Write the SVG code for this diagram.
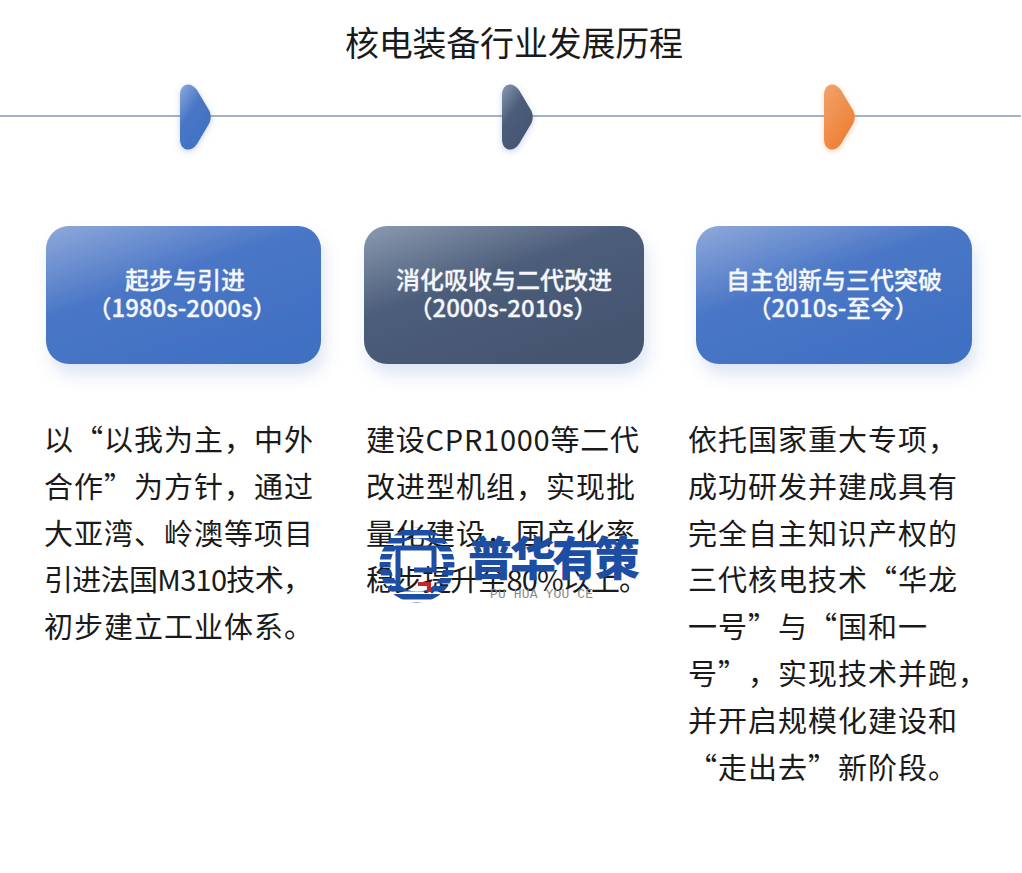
<svg xmlns="http://www.w3.org/2000/svg" width="1022" height="873" viewBox="0 0 1022 873">
<style>
text{font-family:"Noto Sans CJK SC","Noto Sans",sans-serif;text-spacing-trim:space-all;font-kerning:none}
.t{font-size:34px;fill:#1a1a1a}
.h{font-size:24px;font-weight:500;fill:#f4f7fc;text-anchor:middle;stroke:#f4f7fc;stroke-width:.3px}
.b{font-size:29px;fill:#1a1a1a;letter-spacing:1px}
.w{font-size:46px;font-weight:900;fill:#1d4ea3}
.ws{font-size:13px;font-family:"Liberation Mono",monospace;fill:#8a8a8a}
</style>
<defs>
<linearGradient id="gb" x1="0" y1="0" x2="0.7" y2="1"><stop offset="0" stop-color="#8fa9da"/><stop offset=".45" stop-color="#4a76c6"/><stop offset="1" stop-color="#4070c2"/></linearGradient>
<linearGradient id="gd" x1="0" y1="0" x2="0.7" y2="1"><stop offset="0" stop-color="#8a9ab0"/><stop offset=".45" stop-color="#4c5d7a"/><stop offset="1" stop-color="#44546f"/></linearGradient>
<linearGradient id="go" x1="0" y1="0" x2="0.7" y2="1"><stop offset="0" stop-color="#f2a36c"/><stop offset="1" stop-color="#ed7d31"/></linearGradient>
<pattern id="st" width="8" height="8" patternUnits="userSpaceOnUse" y="530"><rect width="8" height="5.5" fill="#1d4ea3"/></pattern>
<filter id="s" x="-20%" y="-20%" width="140%" height="150%"><feDropShadow dx="4" dy="11" stdDeviation="8" flood-color="#4472c4" flood-opacity=".18"/></filter>
<filter id="s2" x="-60%" y="-30%" width="220%" height="160%"><feDropShadow dx="0" dy="2" stdDeviation="3" flood-color="#4472c4" flood-opacity=".3"/></filter>
<filter id="s3" x="-60%" y="-30%" width="220%" height="160%"><feDropShadow dx="0" dy="2" stdDeviation="3" flood-color="#ed7d31" flood-opacity=".3"/></filter>
<path id="ar" d="M0,-22C0,-34 11,-36 17,-27L29.500,-6Q32,0 29.500,6L17,27C11,36 0,34 0,22Z"/>
</defs>
<text class="t" x="345" y="56" textLength="338">核电装备行业发展历程</text>
<g id="connectors"><line x1="0" y1="116" x2="1021" y2="116" stroke="#a3b3c4" stroke-width="2"/></g>
<g id="arrow-1"><use href="#ar" x="180" y="117" fill="url(#gb)" filter="url(#s2)"/></g>
<g id="arrow-2"><use href="#ar" x="502" y="117" fill="url(#gd)" filter="url(#s2)"/></g>
<g id="arrow-3"><use href="#ar" x="824" y="117" fill="url(#go)" filter="url(#s3)"/></g>
<g id="node-1"><rect x="46" y="226" width="275" height="138" rx="23" fill="url(#gb)" filter="url(#s)"/>
<text class="h" x="185" y="289">起步与引进</text><text class="h" x="182" y="317">（1980s-2000s）</text></g>
<g id="node-2"><rect x="364" y="226" width="280" height="138" rx="23" fill="url(#gd)" filter="url(#s)"/>
<text class="h" x="504" y="289">消化吸收与二代改进</text><text class="h" x="503" y="317">（2000s-2010s）</text></g>
<g id="node-3"><rect x="696" y="226" width="276" height="138" rx="23" fill="url(#gb)" filter="url(#s)"/>
<text class="h" x="834" y="289">自主创新与三代突破</text><text class="h" x="833" y="317">（2010s-至今）</text></g>
<g id="text-1">
<text class="b" x="44" y="451">以“以我为主，中外</text>
<text class="b" x="44" y="498">合作”为方针，通过</text>
<text class="b" x="44" y="545">大亚湾、岭澳等项目</text>
<text class="b" x="44" y="591" textLength="269">引进法国M310技术，</text>
<text class="b" x="44" y="638">初步建立工业体系。</text></g>
<g id="text-2">
<text class="b" x="366" y="451" textLength="274">建设CPR1000等二代</text>
<text class="b" x="366" y="498">改进型机组，实现批</text>
<text class="b" x="366" y="545">量化建设，国产化率</text>
<text class="b" x="366" y="591" textLength="283">稳步提升至80%以上。</text></g>
<g id="text-3">
<text class="b" x="688" y="451">依托国家重大专项，</text>
<text class="b" x="688" y="498">成功研发并建成具有</text>
<text class="b" x="688" y="545">完全自主知识产权的</text>
<text class="b" x="688" y="591">三代核电技术“华龙</text>
<text class="b" x="688" y="638">一号”与“国和一</text>
<text class="b" x="688" y="685">号”，实现技术并跑，</text>
<text class="b" x="688" y="732">并开启规模化建设和</text>
<text class="b" x="688" y="779">“走出去”新阶段。</text></g>
<g id="watermark">
<circle cx="417" cy="565" r="32" fill="none" stroke="url(#st)" stroke-width="11"/>
<path d="M398,590V548H434V570H414" fill="none" stroke="#1d4ea3" stroke-width="5"/>
<path d="M418,584H429V592" fill="none" stroke="#c0282d" stroke-width="4"/>
<text class="w" x="468" y="575" textLength="172">普华有策</text>
<text class="ws" x="490" y="598" textLength="103">PU HUA YOU CE</text>
</g>
</svg>
